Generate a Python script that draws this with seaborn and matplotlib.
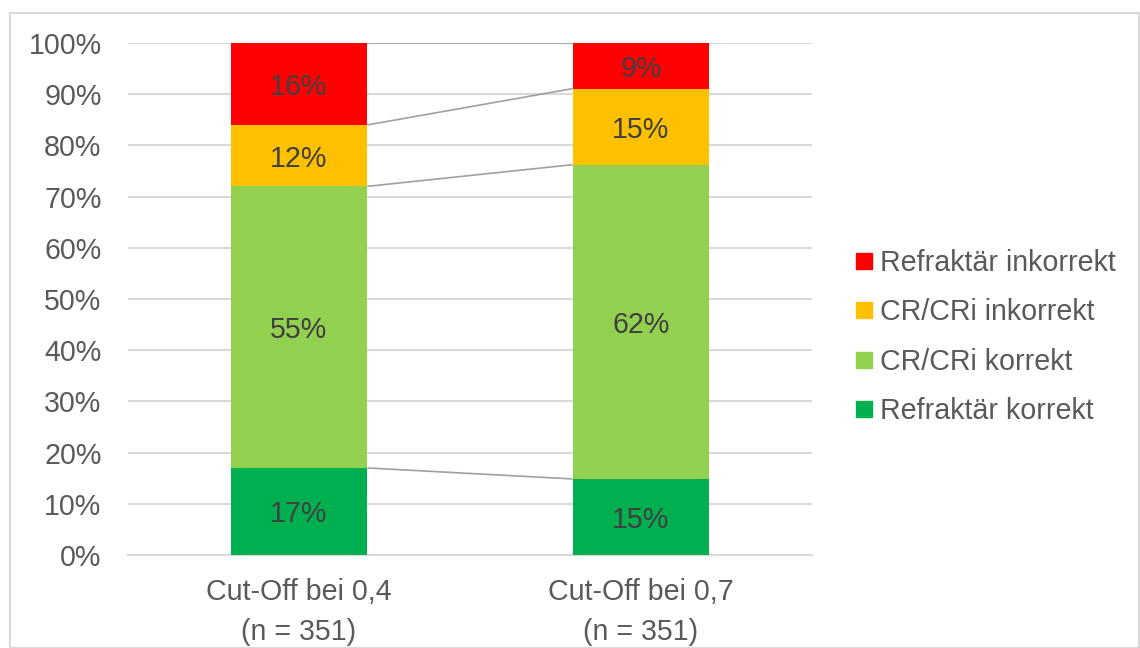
import numpy as np
import pandas as pd
import matplotlib
matplotlib.use("Agg")
import matplotlib.pyplot as plt
from matplotlib.patches import Rectangle
from matplotlib.lines import Line2D
import seaborn as sns

# Data
categories = ["Cut-Off bei 0,4\n(n = 351)", "Cut-Off bei 0,7\n(n = 351)"]
series = ["Refraktär korrekt", "CR/CRi korrekt", "CR/CRi inkorrekt", "Refraktär inkorrekt"]
refraktaer_korrekt = [17, 15]
cr_cri_korrekt = [55, 62]
cr_cri_inkorrekt = [12, 15]
refraktaer_inkorrekt = [16, 9]
colors = ["#00B050", "#92D050", "#FFC000", "#FF0000"]

sns.set_theme(style="white")
plt.rcParams["font.family"] = ["Liberation Sans", "DejaVu Sans"]

FS = 20.6

values = np.array([refraktaer_korrekt, cr_cri_korrekt, cr_cri_inkorrekt, refraktaer_inkorrekt], dtype=float)
shares = values / values.sum(axis=0) * 100  # 100 % stacked
tops = np.cumsum(shares, axis=0)
bottoms = tops - shares

fig = plt.figure(figsize=(11.4, 6.48), dpi=100)
ax = fig.add_axes([128 / 1140, 1 - 555 / 648, 684 / 1140, 512 / 648])

bar_width = 0.4
# Overlay cumulative bars from the top segment down to build the stack
for i in range(len(series) - 1, -1, -1):
    df = pd.DataFrame({"cat": categories, "top": tops[i]})
    sns.barplot(data=df, x="cat", y="top", color=colors[i], width=bar_width,
                saturation=1, ax=ax, zorder=3, linewidth=0)

# Series lines between the bars
for i in range(len(series)):
    ax.plot([0 + bar_width / 2, 1 - bar_width / 2], [tops[i][0], tops[i][1]],
            color="#A0A0A0", lw=1.2, zorder=2, solid_capstyle="butt")

# Segment labels
for i in range(len(series)):
    for j in range(len(categories)):
        ax.text(j, bottoms[i][j] + shares[i][j] / 2, f"{values[i][j]:.0f}%",
                ha="center", va="center_baseline", fontsize=FS, color="#404040", zorder=4)

ax.set_xlim(-0.5, 1.5)
ax.set_ylim(0, 100)
ax.set_yticks(np.arange(0, 101, 10))
ax.set_yticklabels([f"{t}%" for t in range(0, 101, 10)])
ax.yaxis.grid(True, color="#D9D9D9", lw=1.5, zorder=0)
ax.set_axisbelow(True)
for s in ["top", "right", "left"]:
    ax.spines[s].set_visible(False)
ax.spines["bottom"].set_color("#D9D9D9")
ax.spines["bottom"].set_linewidth(1.5)
ax.tick_params(axis="both", length=0, labelsize=FS, labelcolor="#595959")
ax.tick_params(axis="y", pad=19)
ax.tick_params(axis="x", pad=16.5)
for lbl in ax.get_xticklabels():
    lbl.set_linespacing(1.55)
ax.set_xlabel("")
ax.set_ylabel("")

# Legend
handles = [Line2D([0], [0], marker="s", linestyle="none", markersize=11,
                  markerfacecolor=colors[i], markeredgecolor=colors[i])
           for i in range(len(series) - 1, -1, -1)]
labels = [series[i] for i in range(len(series) - 1, -1, -1)]
fig.legend(handles, labels, loc="center left", bbox_to_anchor=(824 / 1140, 1 - 337 / 648),
           frameon=False, fontsize=FS, labelcolor="#595959", handletextpad=0.05,
           handlelength=1.0, labelspacing=0.75)

# Chart border
fig.patches.append(Rectangle((10 / 1140, 0), 1129 / 1140, 1 - 13 / 648, transform=fig.transFigure,
                             fill=False, edgecolor="#D9D9D9", lw=1.5))

fig.savefig("out.png", dpi=100)
